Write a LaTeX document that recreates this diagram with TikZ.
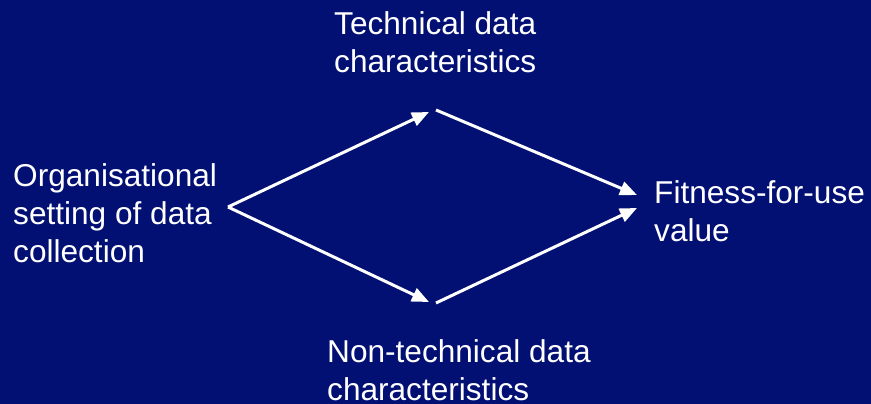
\documentclass[tikz,border=0pt]{standalone}
\usepackage{fontspec}
\setmainfont{Liberation Sans}
\usetikzlibrary{arrows.meta}
\definecolor{bg}{RGB}{2,16,115}
\tikzset{
  lbl/.style={text=white, font=\fontsize{31.6}{38}\selectfont, align=left, inner sep=0pt, anchor=base west},
  conn/.style={draw=white, line width=3pt, -{Triangle[length=17pt,width=14pt]}}
}
\begin{document}
\begin{tikzpicture}[x=1pt,y=1pt]
\fill[bg] (0,0) rectangle (871,404);
\useasboundingbox (0,0) rectangle (871,404);
\node[lbl] (tech) at (334,331) {Technical data\\characteristics};
\node[lbl] (org) at (13,141) {Organisational\\setting of data\\collection};
\node[lbl] (fit) at (654,162) {Fitness-for-use\\value};
\node[lbl] (nontech) at (327,3) {Non-technical data\\characteristics};
\coordinate (apex) at (228,197);
\coordinate (techin) at (429,292);
\coordinate (techout) at (436,294);
\coordinate (nonin) at (429,102);
\coordinate (nonout) at (436,101);
\coordinate (fitin1) at (637,209);
\coordinate (fitin2) at (637,196);
\draw[conn] (apex) -- (techin);
\draw[conn] (apex) -- (nonin);
\draw[conn] (techout) -- (fitin1);
\draw[conn] (nonout) -- (fitin2);
\end{tikzpicture}
\end{document}
